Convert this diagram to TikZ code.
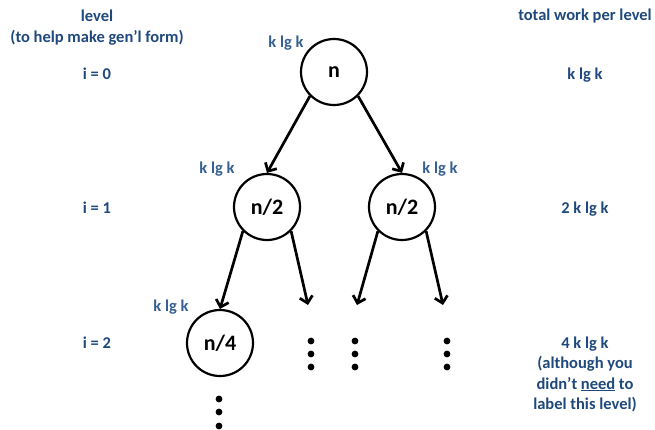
\documentclass[tikz,border=0pt]{standalone}
\usepackage{fontspec}
\setmainfont{Carlito}
\usetikzlibrary{arrows.meta}
\definecolor{lvl}{HTML}{1F497D}
\definecolor{labc}{HTML}{376092}
\begin{document}
\begin{tikzpicture}[x=1pt,y=-1pt,
  txt/.style={font=\fontsize{16.5}{20.5}\selectfont\bfseries, text=lvl, anchor=base, inner sep=0pt},
  lab/.style={txt, text=labc},
  tnode/.style={circle, draw, line width=2.2pt, minimum size=66pt, inner sep=0pt, font=\fontsize{22}{26}\selectfont\bfseries},
  edge/.style={line width=2.7pt, -{Straight Barb[length=6.5pt,width=13pt]}},
  vdot/.style={fill=black}]
\useasboundingbox (0,0) rectangle (655,429);
% left column
\node[txt] (lv1) at (97,21) {level};
\node[txt] (lv2) at (97,42) {(to help make gen’l form)};
\node[txt] (i0) at (97,79) {i = 0};
\node[txt] (i1) at (97,213) {i = 1};
\node[txt] (i2) at (97,348) {i = 2};
% right column
\node[txt] (tw) at (585,20) {total work per level};
\node[txt] (w0) at (585,79) {k lg k};
\node[txt] (w1) at (585,213) {2 k lg k};
\node[txt] (w2) at (585,348) {4 k lg k};
\node[txt] (w2b) at (585,368.5) {(although you};
\node[txt] (w2c) at (585,389) {didn’t \underline{need} to};
\node[txt] (w2d) at (585,409.5) {label this level)};
% tree nodes
\node[tnode] (r) at (334,72) {n};
\node[tnode] (a) at (267,207) {n/2};
\node[tnode] (b) at (402,207) {n/2};
\node[tnode] (c) at (220,343) {n/4};
% labels
\node[lab] (lr) at (286,47) {k lg k};
\node[lab] (la) at (217,173) {k lg k};
\node[lab] (lb) at (440,173) {k lg k};
\node[lab] (lc) at (171,311) {k lg k};
% free ends
\coordinate (e1) at (308,305);
\coordinate (e2) at (357,305);
\coordinate (e3) at (443,305);
% edges
\draw[edge] (r.south west) -- (a.north);
\draw[edge] (r.south east) -- (b.north);
\draw[edge] (a.south west) -- (c.north);
\draw[edge] (a.south east) -- (e1);
\draw[edge] (b.south west) -- (e2);
\draw[edge] (b.south east) -- (e3);
% dots
\foreach \x in {311,355,447}{
  \foreach \y in {341,354,367}{
    \fill[vdot] (\x,\y) circle (3.4pt);
  }
}
\foreach \y in {399,412,426}{
  \fill[vdot] (219,\y) circle (3.4pt);
}
\end{tikzpicture}
\end{document}
